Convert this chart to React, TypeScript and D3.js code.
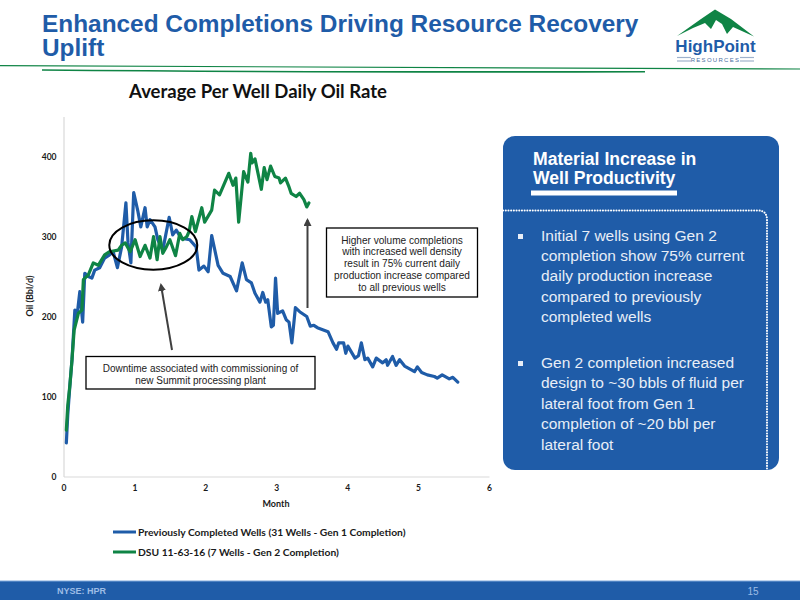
import { useEffect, useRef } from 'react';
import * as d3 from 'd3';

const blueMonths = [
  0.04, 0.06, 0.09, 0.12, 0.16, 0.19, 0.23, 0.27, 0.3, 0.35, 0.4, 0.44, 0.51, 0.58, 0.65, 0.7, 0.76, 0.82, 0.88, 0.91,
  0.95, 0.99, 1.05, 1.09, 1.15, 1.18, 1.22, 1.29, 1.33, 1.4, 1.49, 1.54, 1.59, 1.66, 1.78, 1.87, 1.91, 1.98, 2.04, 2.09,
  2.18, 2.25, 2.35, 2.44, 2.52, 2.58, 2.65, 2.7, 2.77, 2.81, 2.85, 2.88, 2.93, 2.96, 2.99, 3.02, 3.09, 3.14, 3.18, 3.22,
  3.27, 3.33, 3.43, 3.48, 3.53, 3.58, 3.73, 3.8, 3.85, 3.88, 3.95, 3.98, 4.01, 4.11, 4.16, 4.2, 4.25, 4.29, 4.36, 4.41,
  4.5, 4.55, 4.57, 4.64, 4.69, 4.74, 4.81, 4.95, 4.99, 5.05, 5.13, 5.23, 5.27, 5.34, 5.44, 5.49, 5.56,
];
const blueOil = [
  42, 77, 114, 146, 208, 200, 231, 193, 254, 250, 248, 258, 261, 273, 277, 281, 261, 287, 342, 292,
  267, 355, 331, 312, 336, 312, 321, 312, 296, 283, 324, 302, 308, 298, 296, 287, 258, 263, 256, 301,
  264, 254, 250, 232, 267, 246, 242, 229, 218, 230, 218, 221, 187, 189, 248, 204, 207, 196, 193, 167,
  211, 206, 200, 188, 189, 186, 181, 167, 159, 167, 167, 154, 163, 148, 151, 167, 146, 148, 137, 148,
  142, 146, 139, 150, 139, 146, 138, 131, 137, 130, 127, 125, 123, 127, 122, 124, 118,
];
const greenMonths = [
  0.04, 0.06, 0.09, 0.12, 0.15, 0.21, 0.26, 0.28, 0.35, 0.42, 0.49, 0.58, 0.65, 0.77, 0.82, 0.87, 0.94, 1.01, 1.08, 1.15,
  1.22, 1.27, 1.32, 1.36, 1.4, 1.45, 1.5, 1.58, 1.64, 1.68, 1.74, 1.77, 1.81, 1.86, 1.95, 1.99, 2.09, 2.13, 2.2, 2.33,
  2.39, 2.43, 2.47, 2.54, 2.6, 2.64, 2.66, 2.7, 2.79, 2.83, 2.87, 2.92, 2.98, 3.04, 3.06, 3.13, 3.18, 3.21, 3.28, 3.33,
  3.39, 3.43, 3.46,
];
const greenOil = [
  58, 89, 114, 146, 183, 204, 208, 246, 252, 267, 264, 277, 281, 283, 289, 292, 281, 296, 275, 289,
  273, 300, 271, 300, 279, 287, 296, 276, 304, 296, 300, 306, 325, 306, 336, 318, 333, 358, 352, 379,
  364, 373, 318, 381, 368, 404, 392, 397, 359, 386, 371, 388, 375, 373, 367, 373, 362, 354, 350, 354,
  346, 337, 342,
];
const xTicks = [0, 1, 2, 3, 4, 5, 6];
const yTicks = [0, 100, 200, 300, 400];
const legendLabels = [
  'Previously Completed Wells (31 Wells - Gen 1 Completion)',
  'DSU 11-63-16 (7 Wells - Gen 2 Completion)',
];
const boxLeftLines = ['Downtime associated with commissioning of', 'new Summit processing plant'];
const boxRightLines = [
  'Higher volume completions',
  'with increased well density',
  'result in 75% current daily',
  'production increase compared',
  'to all previous wells',
];
const bulletOne = [
  'Initial 7 wells using Gen 2',
  'completion show 75% current',
  'daily production increase',
  'compared to previously',
  'completed wells',
];
const bulletTwo = [
  'Gen 2 completion increased',
  'design to ~30 bbls of fluid per',
  'lateral foot from Gen 1',
  'completion of ~20 bbl per',
  'lateral foot',
];

const BLUE = '#1F5CA8';
const GREEN = '#0F8445';
const CHART_FONT = 'Lato, sans-serif';
const SLIDE_FONT = '"Liberation Sans", Arial, sans-serif';

function OilChart() {
  const ref = useRef<SVGGElement>(null);

  useEffect(() => {
    if (!ref.current) return;
    const g = d3.select(ref.current);
    g.selectAll('*').remove();

    const x = d3.scaleLinear().domain([0, 6]).range([63.5, 489]);
    const y = d3.scaleLinear().domain([0, 450]).range([476.5, 116.5]);

    const xAxis = g.append('g').attr('transform', 'translate(0,476.5)')
      .call(d3.axisBottom(x).tickValues(xTicks).tickSize(0).tickPadding(8).tickFormat(d3.format('d')));
    const yAxis = g.append('g').attr('transform', 'translate(63.5,0)')
      .call(d3.axisLeft(y).tickValues(yTicks).tickSize(0).tickPadding(7).tickFormat(d3.format('d')));
    [xAxis, yAxis].forEach((a) => {
      a.select('.domain').attr('stroke', '#d9d9d9').attr('stroke-width', 1.2);
      a.selectAll('text')
        .attr('font-family', CHART_FONT)
        .attr('font-weight', 700)
        .attr('font-size', 8.5)
        .attr('fill', '#1a1a1a');
    });

    const line = d3.line<[number, number]>().x((d) => x(d[0])).y((d) => y(d[1]));
    const series = [
      { months: blueMonths, oil: blueOil, color: BLUE },
      { months: greenMonths, oil: greenOil, color: GREEN },
    ];
    series.forEach((s) => {
      g.append('path')
        .attr('d', line(s.months.map((m, i) => [m, s.oil[i]] as [number, number])))
        .attr('fill', 'none')
        .attr('stroke', s.color)
        .attr('stroke-width', 3.2)
        .attr('stroke-linejoin', 'round')
        .attr('stroke-linecap', 'round');
    });

    legendLabels.forEach((label, i) => {
      const ly = 532 + i * 20;
      g.append('line').attr('x1', 113).attr('x2', 136).attr('y1', ly).attr('y2', ly)
        .attr('stroke', series[i].color).attr('stroke-width', 3);
      g.append('text').attr('x', 138).attr('y', ly + 3.5)
        .attr('font-family', CHART_FONT).attr('font-weight', 700).attr('font-size', 10.3)
        .attr('fill', '#1a1a1a').text(label);
    });
  }, []);

  return <g ref={ref} />;
}

function Logo() {
  return (
    <g>
      <path d="M677,36 L701,19 L715,9.5 L731,19 L754,36.5 L733,27 L727,34 L722,24 L716,20 L711,29 L705,23 L693,28 Z" fill={GREEN} />
      <text x={715.5} y={52} textAnchor="middle" fontFamily={SLIDE_FONT} fontWeight={700} fontSize={17} fill={BLUE}>HighPoint</text>
      <text x={715.5} y={62} textAnchor="middle" fontFamily={SLIDE_FONT} fontSize={6} letterSpacing={1.3} fill="#4a6f9f">RESOURCES</text>
      {[57.5, 61].map((ly) => (
        <g key={ly} stroke="#9fb2cc" strokeWidth={1.2}>
          <line x1={677} x2={691} y1={ly} y2={ly} />
          <line x1={740} x2={754} y1={ly} y2={ly} />
        </g>
      ))}
    </g>
  );
}

export default function App() {
  return (
    <svg width={800} height={600} viewBox="0 0 800 600" style={{ position: 'absolute', left: 0, top: 0, display: 'block', background: '#fff' }}>
      {/* header */}
      <text fontFamily={SLIDE_FONT} fontWeight={700} fontSize={24.4} fill={BLUE}>
        <tspan x={42} y={32}>Enhanced Completions Driving Resource Recovery</tspan>
        <tspan x={42} y={56}>Uplift</tspan>
      </text>
      <Logo />
      <path d="M0,65.7 Q300,66.5 800,69" stroke={GREEN} strokeWidth={1.2} fill="none" />
      <path d="M42,70 Q300,72.5 645,71.7" stroke={GREEN} strokeWidth={1.6} fill="none" />

      {/* chart */}
      <text x={258} y={97.5} textAnchor="middle" fontFamily={CHART_FONT} fontWeight={700} fontSize={18.5} fill="#111">
        Average Per Well Daily Oil Rate
      </text>
      <OilChart />
      <text x={276} y={506.5} textAnchor="middle" fontFamily={CHART_FONT} fontWeight={700} fontSize={9} fill="#1a1a1a">Month</text>
      <text transform="translate(33,296) rotate(-90)" textAnchor="middle" fontFamily={CHART_FONT} fontWeight={700} fontSize={9} fill="#1a1a1a">Oil (Bbl/d)</text>

      {/* annotations */}
      <defs>
        <marker id="arrow" markerWidth={4} markerHeight={4} refX={3} refY={2} orient="auto">
          <path d="M0,0 L4,2 L0,4 Z" fill="#404040" />
        </marker>
      </defs>
      <ellipse cx={153.3} cy={245} rx={44} ry={24.7} fill="none" stroke="#000" strokeWidth={2} />
      <line x1={172} y1={350} x2={161} y2={285} stroke="#404040" strokeWidth={2} markerEnd="url(#arrow)" />
      <line x1={307.5} y1={308} x2={307.5} y2={220} stroke="#404040" strokeWidth={2} markerEnd="url(#arrow)" />
      <rect x={86} y={356.5} width={229} height={32.5} fill="#fff" stroke="#000" strokeWidth={1.3} />
      <g fontFamily={SLIDE_FONT} fontSize={10} fill="#222" textAnchor="middle">
        {boxLeftLines.map((t, i) => <text key={t} x={200.5} y={371.5 + i * 12.5}>{t}</text>)}
      </g>
      <rect x={326.5} y={228} width={151} height={69} fill="#fff" stroke="#000" strokeWidth={1.3} />
      <g fontFamily={SLIDE_FONT} fontSize={10.1} fill="#222" textAnchor="middle">
        {boxRightLines.map((t, i) => <text key={t} x={402} y={243.5 + i * 11.9}>{t}</text>)}
      </g>

      {/* side panel */}
      <rect x={503} y={136} width={276} height={334} rx={12} fill={BLUE} />
      <g fontFamily={SLIDE_FONT} fontWeight={700} fontSize={17.6} fill="#fff">
        <text x={533} y={165}>Material Increase in</text>
        <text x={533} y={184}>Well Productivity</text>
      </g>
      <rect x={531} y={190.5} width={146} height={5} fill="#fff" />
      <path d="M503,210.5 H758 Q767,210.5 767,220 V470" fill="none" stroke="#fff" strokeWidth={2} strokeLinecap="round" strokeDasharray="0.1 2.6" />
      <g fontFamily={SLIDE_FONT} fontSize={15.5} fill="#e8eef7">
        {bulletOne.map((t, i) => <text key={t} x={541} y={241 + i * 20.2}>{t}</text>)}
        {bulletTwo.map((t, i) => <text key={t} x={541} y={368 + i * 20.4}>{t}</text>)}
      </g>
      <rect x={518} y={234} width={5} height={5} fill="#e8eef7" />
      <rect x={518} y={361} width={5} height={5} fill="#e8eef7" />

      {/* footer */}
      <rect x={0} y={581} width={800} height={19} fill={BLUE} />
      <rect x={0} y={580.5} width={800} height={1} fill="#7fa8dc" />
      <text x={57} y={594} fontFamily={SLIDE_FONT} fontWeight={700} fontSize={9} fill="#9dbde6">NYSE: HPR</text>
      <text x={753} y={595} textAnchor="middle" fontFamily={SLIDE_FONT} fontSize={10} fill="#9dbde6">15</text>
    </svg>
  );
}
